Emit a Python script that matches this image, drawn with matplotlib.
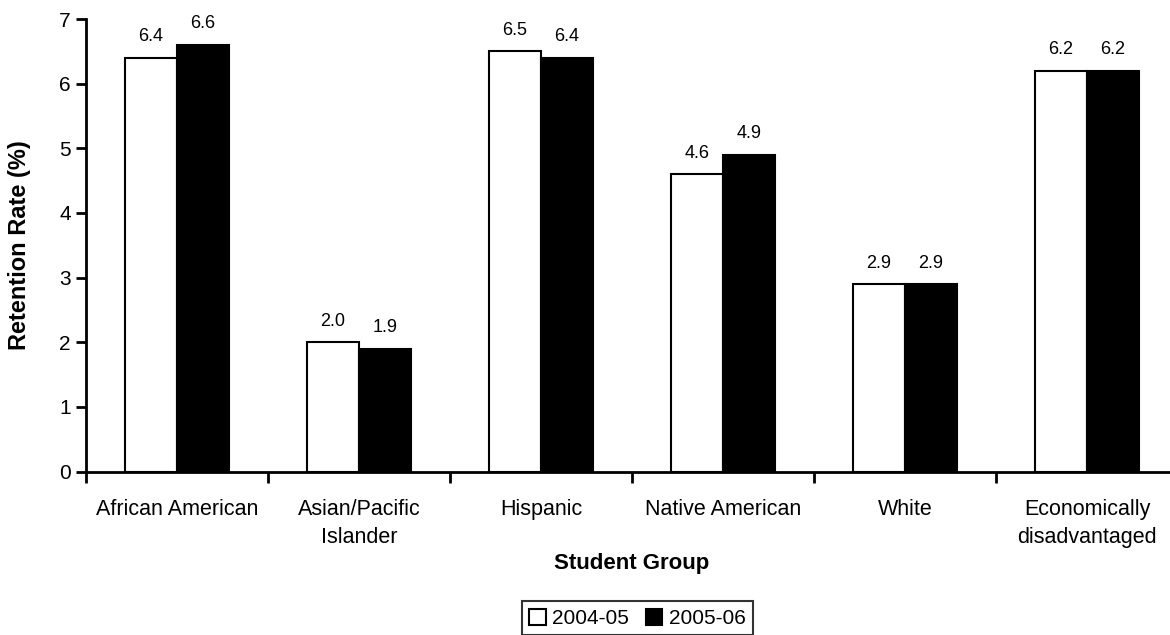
import matplotlib
matplotlib.use("Agg")
import matplotlib.pyplot as plt
from matplotlib import font_manager
import numpy as np

categories = ["African American", "Asian/Pacific\nIslander", "Hispanic",
              "Native American", "White", "Economically\ndisadvantaged"]
series_names = ["2004-05", "2005-06"]
values_0405 = [6.4, 2.0, 6.5, 4.6, 2.9, 6.2]
values_0506 = [6.6, 1.9, 6.4, 4.9, 2.9, 6.2]
value_labels_0405 = ["6.4", "2.0", "6.5", "4.6", "2.9", "6.2"]
value_labels_0506 = ["6.6", "1.9", "6.4", "4.9", "2.9", "6.2"]
yticks = [0, 1, 2, 3, 4, 5, 6, 7]

avail = {f.name for f in font_manager.fontManager.ttflist}
fam = "Liberation Sans Narrow" if "Liberation Sans Narrow" in avail else "Liberation Sans"
plt.rcParams['font.family'] = [fam, 'DejaVu Sans']

W, H = 1170, 635
fig = plt.figure(figsize=(W/100, H/100), dpi=100)
# axes extends slightly beyond the right edge of the figure, as in the reference
ax = fig.add_axes([86/W, (H-471.5)/H, (1178-86)/W, (471.5-19)/H])

x = np.arange(len(categories))
bw = 0.285
b1 = ax.bar(x - bw/2, values_0405, bw, color="white", edgecolor="black", linewidth=1.5, label=series_names[0])
b2 = ax.bar(x + bw/2, values_0506, bw, color="black", edgecolor="black", linewidth=1.5, label=series_names[1])
for xi, v, s in zip(x - bw/2, values_0405, value_labels_0405):
    ax.annotate(s, (xi, v), xytext=(0, 9), textcoords="offset points",
                ha="center", va="bottom", fontsize=13)
for xi, v, s in zip(x + bw/2, values_0506, value_labels_0506):
    ax.annotate(s, (xi, v), xytext=(0, 9), textcoords="offset points",
                ha="center", va="bottom", fontsize=13)

ax.set_xlim(-0.5, len(categories) - 0.5)
ax.set_ylim(0, 7)
ax.set_yticks(yticks)
ax.tick_params(axis="y", labelsize=15, length=7, width=2, direction="out", pad=4)
ax.set_xticks(np.arange(-0.5, len(categories), 1.0))
ax.set_xticklabels([])
ax.tick_params(axis="x", which="major", length=8, width=2, direction="out")
ax.set_xticks(x, minor=True)
ax.set_xticklabels(categories, minor=True, linespacing=1.45)
ax.tick_params(axis="x", which="minor", length=0, labelsize=15.5, pad=20)

for sp in ["top", "right"]:
    ax.spines[sp].set_visible(False)
for sp in ["left", "bottom"]:
    ax.spines[sp].set_linewidth(2)

ax.set_ylabel("Retention Rate (%)", fontsize=17, fontweight="bold", labelpad=20)
ax.set_xlabel("Student Group", fontsize=16, fontweight="bold", labelpad=3)

leg = fig.legend(handles=[b1, b2], labels=series_names, loc="upper center",
                 bbox_to_anchor=(637.5/W, (H-591)/H), ncol=2, fontsize=15,
                 frameon=True, fancybox=False, handlelength=0.8, handleheight=0.8,
                 handletextpad=0.3, columnspacing=0.8, borderpad=0.35)
leg.get_frame().set_edgecolor("black")
leg.get_frame().set_linewidth(1.5)

fig.savefig("out.png", dpi=100)
